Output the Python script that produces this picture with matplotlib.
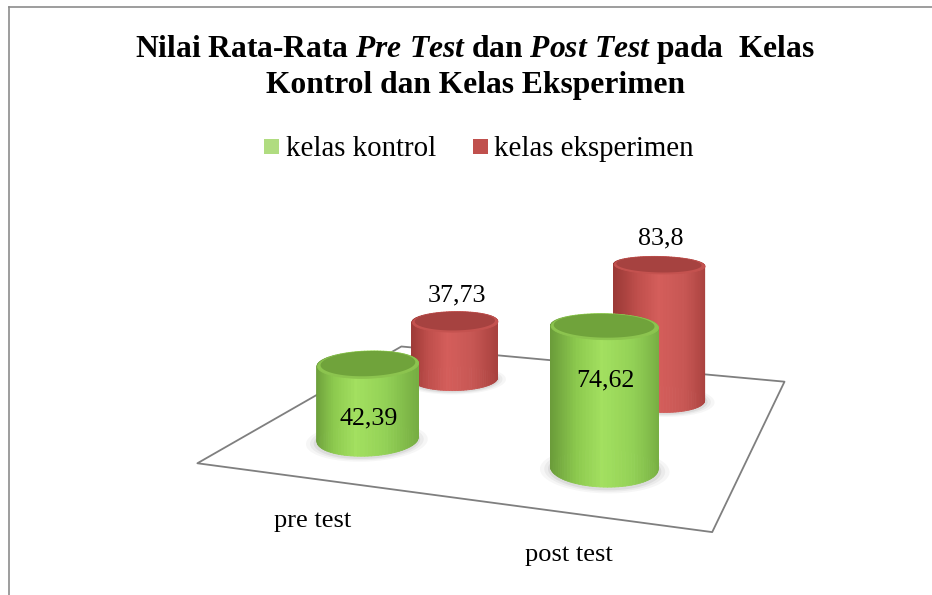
import numpy as np
import matplotlib
matplotlib.use('Agg')
import matplotlib.pyplot as plt
from matplotlib.colors import to_rgb
from matplotlib.patches import Rectangle
from matplotlib.lines import Line2D
from mpl_toolkits.mplot3d.art3d import Poly3DCollection

# ---------------- data ----------------
categories = ['pre test', 'post test']
series_names = ['kelas kontrol', 'kelas eksperimen']
kontrol = [42.39, 74.62]
eksperimen = [37.73, 83.8]
kontrol_labels = ['42,39', '74,62']
eksperimen_labels = ['37,73', '83,8']

# ---------------- layout / style ----------------
W, H = 932, 595
FONT = 'Liberation Serif'
plt.rcParams['font.family'] = [FONT, 'DejaVu Serif']
plt.rcParams['mathtext.fontset'] = 'custom'
plt.rcParams['mathtext.rm'] = 'Liberation Serif:bold'
plt.rcParams['mathtext.it'] = 'Liberation Serif:italic:bold'
plt.rcParams['mathtext.bf'] = 'Liberation Serif:bold'

# camera: horizontal view from above the floor (vertical edges stay parallel)
ELEV, AZIM = 0.0, -70.8
S = 1150.0                     # 3D axes side in px
LAM = 717.3 / S                # world units per camera-height unit
FOCAL = 0.3198 * LAM
A, B = 1.1956 * LAM, 1.1212 * LAM   # floor size (world)
C = 2.0 * LAM                  # box height: eye sits at half of it
ZTOP = 461.2                   # value at the top of the 3D box
R_W = 0.1225 * LAM             # cylinder radius (world)
P_X, P_Y = 521.0, 30.0         # where the box centre (horizon) lands, px from top-left

green_stops = ['#6b9c3a', '#8cc94e', '#a3e060', '#93d156', '#77ae43']
red_stops = ['#9c3a37', '#bf4f4c', '#d45e5b', '#c75754', '#a8413e']
stop_pos = [-1.0, -0.55, -0.1, 0.45, 1.0]
green_top, green_rim = '#70a33b', '#8cc44f'
red_top, red_rim = '#a64240', '#c4524f'
green_legend = '#b0dc80'
red_legend = '#c0504d'

fig = plt.figure(figsize=(W / 100, H / 100), dpi=100)
fig.patch.set_facecolor('white')

frac0 = 0.095 / 0.185
ax = fig.add_axes([(P_X - frac0 * S) / W, ((H - P_Y) - frac0 * S) / H, S / W, S / H],
                  projection='3d', computed_zorder=False)
ax.set_proj_type('persp', focal_length=FOCAL)
ax.view_init(elev=ELEV, azim=AZIM)
box = np.array([A, B, C])
ax.set_box_aspect(box, zoom=np.linalg.norm(box) / (1.8294640721620434 * 25 / 24))
ax.set_axis_off()

n_cat = len(categories)
n_ser = len(series_names)
XMAX, YMAX = float(n_cat), float(n_ser)

phi = np.deg2rad(AZIM)
U = np.array([-np.sin(phi), np.cos(phi)])   # screen-right direction in world xy
Wv = np.array([np.cos(phi), np.sin(phi)])   # towards the viewer in world xy

rx = R_W * XMAX / A
ry = R_W * YMAX / B


def shade(stops, s):
    rgb = np.array([to_rgb(c) for c in stops])
    return np.column_stack([np.interp(s, stop_pos, rgb[:, k]) for k in range(3)])


def add(coll):
    ax.add_collection3d(coll, autolim=False)
    coll.set_clip_on(False)


# floor
add(Poly3DCollection([[(0, 0, 0), (XMAX, 0, 0), (XMAX, YMAX, 0), (0, YMAX, 0)]],
                     facecolors='white', edgecolors='#7f7f7f', linewidths=1.3, zorder=1))


def shadow(cx, cy, z):
    t = np.linspace(0, 2 * np.pi, 73)
    ox, oy = 0.10 * Wv[0] * rx, 0.10 * Wv[1] * ry
    for k, (f, a) in enumerate([(1.20, 0.06), (1.12, 0.08), (1.05, 0.11)]):
        xs = cx + ox + f * rx * np.cos(t)
        ys = cy + oy + f * ry * np.sin(t)
        add(Poly3DCollection([list(zip(xs, ys, np.zeros_like(xs)))],
                             facecolors=(0.42, 0.42, 0.42, a), edgecolors='none',
                             zorder=z + k * 0.01))


def cylinder(cx, cy, h, stops, top_col, rim_col, z):
    n = 96
    t = np.linspace(0, 2 * np.pi, n + 1)
    xs = cx + rx * np.cos(t)
    ys = cy + ry * np.sin(t)
    quads = [[(xs[i], ys[i], 0), (xs[i + 1], ys[i + 1], 0),
              (xs[i + 1], ys[i + 1], h), (xs[i], ys[i], h)] for i in range(n)]
    tm = 0.5 * (t[:-1] + t[1:])
    s = np.cos(tm) * U[0] + np.sin(tm) * U[1]
    cols = shade(stops, s)
    add(Poly3DCollection(quads, facecolors=cols, edgecolors=cols, linewidths=0.6, zorder=z))
    # top disc with a light bevel rim towards the viewer
    add(Poly3DCollection([list(zip(xs, ys, np.full_like(xs, h)))],
                         facecolors=rim_col, edgecolors=rim_col, linewidths=0.6, zorder=z + 0.5))
    ix = cx - 0.05 * Wv[0] * rx + 0.94 * rx * np.cos(t)
    iy = cy - 0.05 * Wv[1] * ry + 0.94 * ry * np.sin(t)
    add(Poly3DCollection([list(zip(ix, iy, np.full_like(ix, h)))],
                         facecolors=top_col, edgecolors='none', zorder=z + 0.6))


cat_x = [i + 0.5 for i in range(n_cat)]
ser_y = [j + 0.5 for j in range(n_ser)]

# shadows first, then back row (eksperimen), then front row (kontrol)
for i in range(n_cat):
    shadow(cat_x[i], ser_y[1], 2)
    shadow(cat_x[i], ser_y[0], 2)
for i in range(n_cat):
    cylinder(cat_x[i], ser_y[1], eksperimen[i], red_stops, red_top, red_rim, 10 + i)
for i in range(n_cat):
    cylinder(cat_x[i], ser_y[0], kontrol[i], green_stops, green_top, green_rim, 20 + i)

ax.set_xlim(0, XMAX)
ax.set_ylim(0, YMAX)
ax.set_zlim(0, ZTOP)

M = ax.get_proj()


def proj(x, y, z):
    v = M @ np.array([x, y, z, 1.0])
    return v[0] / v[3], v[1] / v[3]


for i in range(n_cat):
    ax.annotate(eksperimen_labels[i], xy=proj(cat_x[i], ser_y[1], eksperimen[i]),
                xytext=(2, 26), textcoords='offset pixels', ha='center', va='center',
                fontsize=18.7, family=FONT, zorder=40)
    ax.annotate(kontrol_labels[i], xy=proj(cat_x[i], ser_y[0], kontrol[i]),
                xytext=(1, -55), textcoords='offset pixels', ha='center', va='center',
                fontsize=18.7, family=FONT, zorder=40)
    ax.annotate(categories[i], xy=proj(cat_x[i], 0, 0),
                xytext=(1, -43), textcoords='offset pixels', ha='center', va='center',
                fontsize=19, family=FONT, zorder=40)

# title
title1 = r'Nilai Rata-Rata $\mathit{Pre\ Test}$ dan $\mathit{Post\ Test}$ pada  Kelas'
title2 = 'Kontrol dan Kelas Eksperimen'
fig.text(475 / W, 1 - 56.5 / H, title1, ha='center', va='baseline',
         fontsize=22.7, fontweight='bold', family=FONT)
fig.text(475 / W, 1 - 93.5 / H, title2, ha='center', va='baseline',
         fontsize=22.7, fontweight='bold', family=FONT)

# legend
for (sx, tx, name, col) in [(264, 286, series_names[0], green_legend),
                            (473, 494, series_names[1], red_legend)]:
    fig.add_artist(Rectangle((sx / W, 1 - 153.5 / H), 15 / W, 14.5 / H,
                             transform=fig.transFigure, facecolor=col, edgecolor='none'))
    fig.text(tx / W, 1 - 156 / H, name, ha='left', va='baseline', fontsize=20.8, family=FONT)

# chart border (left and top visible)
fig.add_artist(Line2D([9 / W, 9 / W], [0, 1 - 7 / H], transform=fig.transFigure,
                      color='#8c8c8c', lw=1.2))
fig.add_artist(Line2D([9 / W, 1], [1 - 7 / H, 1 - 7 / H], transform=fig.transFigure,
                      color='#8c8c8c', lw=1.2))

fig.savefig('out.png', dpi=100, facecolor='white')
